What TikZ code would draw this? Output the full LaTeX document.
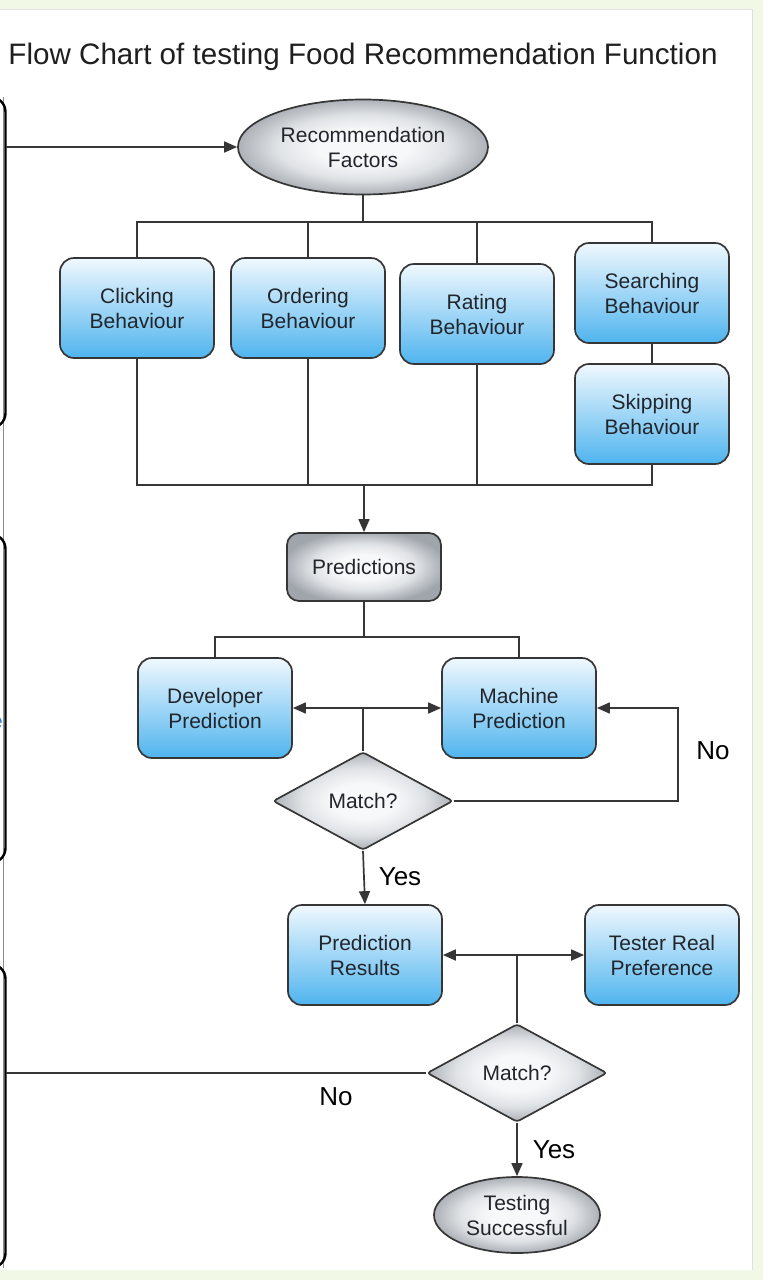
\documentclass[tikz,border=0pt]{standalone}
\usepackage{fontspec}
\setmainfont{Liberation Sans}
\usetikzlibrary{shapes.geometric,arrows.meta}

\definecolor{pagegreen}{HTML}{F1F9E6}
\definecolor{linec}{HTML}{363636}
\definecolor{txt}{HTML}{22262C}
\definecolor{bluetop}{HTML}{F0F8FE}
\definecolor{bluebot}{HTML}{4FB4EE}
\definecolor{grayc}{HTML}{F7F8F9}
\definecolor{graym}{HTML}{E0E3E6}
\definecolor{grayo}{HTML}{A0A5AC}
\definecolor{linkblue}{HTML}{3A7FD0}

% soft grey radial fill for ovals, diamonds and the grey box
\pgfdeclareradialshading{softgray}{\pgfpoint{0bp}{0bp}}{%
  color(0bp)=(grayc); color(9bp)=(grayc); color(17bp)=(graym);
  color(27bp)=(grayo); color(50bp)=(grayo)}

\newcommand{\boxfont}{\fontsize{21}{25}\selectfont}
\newcommand{\labfont}{\fontsize{26}{30}\selectfont}
\newcommand{\headfont}{\fontsize{29.6}{33}\selectfont}

\tikzset{
  base/.style={draw=linec, line width=1.7pt, inner sep=0pt, align=center,
    font=\boxfont, text=txt},
  bluebox/.style={base, rectangle, rounded corners=14pt,
    top color=bluetop, bottom color=bluebot,
    minimum width=154pt, minimum height=100pt},
  graybox/.style={base, rectangle, rounded corners=12pt, shading=softgray,
    minimum width=154pt, minimum height=68pt},
  grayoval/.style={base, ellipse, shading=softgray},
  decision/.style={base, diamond, rounded corners=3pt, shading=softgray,
    minimum width=180pt, minimum height=98pt},
  link/.style={draw=linec, line width=1.7pt},
  arr/.style={link, -{Triangle[length=13pt,width=11pt]}},
  arrboth/.style={link, {Triangle[length=13pt,width=11pt]}-{Triangle[length=13pt,width=11pt]}},
  bracket/.style={draw=black, line width=2.4pt, rounded corners=15pt},
  lab/.style={font=\labfont, text=black, inner sep=0pt},
}

\begin{document}
\begin{tikzpicture}[x=1pt,y=-1pt]
\useasboundingbox (0,0) rectangle (763,1280);

% page and panel
\fill[pagegreen] (0,0) rectangle (763,1280);
\fill[white] (0,9) rectangle (752,1270);
\draw[black!12, line width=0.8pt] (0,9.5) -- (752,9.5) -- (752,1270);

% frames cut off at the left edge
\draw[black!45, line width=1pt] (3.5,97) -- (3.5,1268);
\draw[bracket] (-40,97) rectangle (5.5,428);
\draw[bracket] (-40,534) rectangle (5.5,863);
\draw[bracket] (-40,964) rectangle (5.5,1268);
\node[anchor=base east, font=\fontsize{21}{25}\selectfont, text=linkblue, inner sep=0pt] (cut) at (3,728) {e};

% title
\node[font=\headfont, text=black!88, inner sep=0pt] (title) at (363,57)
  {Flow Chart of testing Food Recommendation Function};

% nodes
\node[grayoval, minimum width=250pt, minimum height=95pt] (rf) at (363,147)
  {Recommendation\\Factors};

\node[bluebox] (click) at (137,308) {Clicking\\Behaviour};
\node[bluebox] (ord)   at (308,308) {Ordering\\Behaviour};
\node[bluebox] (rate)  at (477,314) {Rating\\Behaviour};
\node[bluebox] (srch)  at (652,293) {Searching\\Behaviour};
\node[bluebox] (skip)  at (652,414) {Skipping\\Behaviour};

\node[graybox] (pred) at (364,567) {Predictions};

\node[bluebox] (dev)  at (215,708) {Developer\\Prediction};
\node[bluebox] (mach) at (519,708) {Machine\\Prediction};

\node[decision] (m1) at (363,801) {Match?};

\node[bluebox] (pr)  at (365,955) {Prediction\\Results};
\node[bluebox] (trp) at (662,955) {Tester Real\\Preference};

\node[decision] (m2) at (517,1073) {Match?};

\node[grayoval, minimum width=166pt, minimum height=76pt] (ts) at (517,1215)
  {Testing\\Successful};

% helper points
\coordinate (inl) at (5.5,147);
\coordinate (busa) at (0,222);
\coordinate (busb) at (0,485);
\coordinate (busc) at (0,637);
\coordinate (loop) at (678,708);
\coordinate (outl) at (5.5,1073);

% connectors
\draw[arr] (inl) -- (rf.west);

\draw[link] (rf.south) -- (rf.south |- busa);
\draw[link] (click.north) -- (click.north |- busa) -| (srch.north);
\draw[link] (ord.north) -- (ord.north |- busa);
\draw[link] (rate.north) -- (rate.north |- busa);
\draw[link] (srch.south) -- (skip.north);

\draw[link] (click.south) -- (click.south |- busb) -| (skip.south);
\draw[link] (ord.south) -- (ord.south |- busb);
\draw[link] (rate.south) -- (rate.south |- busb);
\draw[arr] (pred.north |- busb) -- (pred.north);

\draw[link] (pred.south) -- (pred.south |- busc);
\draw[link] (dev.north) -- (dev.north |- busc) -| (mach.north);

\draw[arrboth] (dev.east) -- (mach.west);
\draw[link] (m1.north) -- (m1.north |- dev.east);
\draw[arr] (m1.east) -| (loop) -- (mach.east);
\draw[arr] (m1.south) -- (pr.north);

\draw[arrboth] (pr.east) -- (trp.west);
\draw[link] (m2.north) -- (m2.north |- pr.east);
\draw[link] (m2.west) -- (outl);
\draw[arr] (m2.south) -- (ts.north);

% branch labels
\node[lab] (no1)  at (713,751)  {No};
\node[lab] (yes1) at (400,877)  {Yes};
\node[lab] (no2)  at (336,1097) {No};
\node[lab] (yes2) at (554,1150) {Yes};
\end{tikzpicture}
\end{document}
